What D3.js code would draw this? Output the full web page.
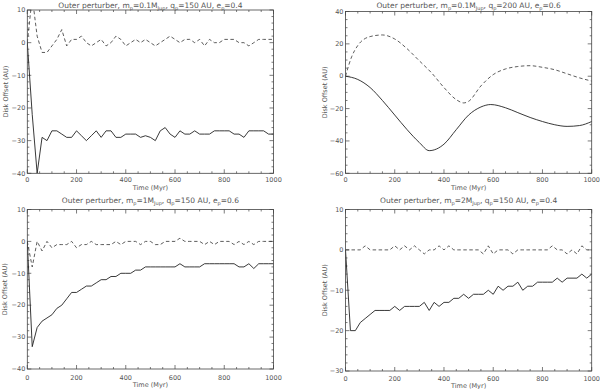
<!DOCTYPE html>
<html>
<head>
<meta charset="utf-8">
<script src="https://cdn.jsdelivr.net/npm/d3@7"></script>
<style>
  body { margin: 0; background: #fff; }
  svg { display: block; }
  text { font-family: "DejaVu Sans", sans-serif; fill: #555; }
</style>
</head>
<body>
<svg id="chart" width="600" height="389"></svg>
<script>
// time grid (Myr) for the sampled runs
const times = d3.range(0, 1001, 20)

// panel 1: m=0.1 MJup, q=150 AU, e=0.4
const solid1 = [0, -22, -40, -29, -30, -27, -27, -28, -29, -29, -27, -28.5, -30, -28.5, -27, -29, -27, -27, -29, -29,
  -28, -28, -28, -29, -28.5, -29, -30, -27, -26, -28, -29, -27, -28, -28, -27, -28, -28, -28, -27, -27,
  -27, -27, -28, -28, -29, -27, -27, -27, -27, -28, -28]
const dashed1 = [0, 14, 2, -3, -3, -1, 1, 4, -1, 1, 1, 2, 0, -1, 0, 1, -1, 0, 2, 1,
  -1, 0, 1, 0, 1, 0, -1, 0, 1, 2, 1, 0, 1, 1, 0, 1, -1, 1, 0, 0,
  1, 1, 1, 0, 0, -1, 0, 1, 1, 1, 1]

// panel 2: m=0.1 MJup, q=200 AU, e=0.6 (smooth curves)
const times2s = [0, 50, 100, 150, 200, 250, 300, 340, 400, 450, 500, 550, 590, 650, 700, 750, 800, 850, 900, 950, 1000]
const solid2 = [0, -2, -7, -15, -24, -33, -41, -46, -42, -33, -24, -19, -17.5, -19.5, -22.5, -25.5, -28, -30, -31, -30.5, -28]
const times2d = [0, 25, 50, 100, 150, 200, 250, 300, 350, 400, 450, 480, 500, 550, 600, 650, 700, 750, 800, 850, 900, 950, 1000]
const dashed2 = [0, 12, 19, 24.5, 25.5, 23, 17, 9.5, 2, -7, -14.5, -16.5, -15.5, -6, 1, 4.5, 6, 6.5, 5.5, 4, 1.5, -1, -3]

// panel 3: m=1 MJup, q=150 AU, e=0.6
const solid3 = [0, -33, -27, -25, -24, -23, -21, -20, -18, -16, -16, -15, -14, -14, -13, -12, -12, -11, -11, -10,
  -10, -10, -9, -9, -8, -8, -8, -8, -8, -8, -8, -7, -8, -8, -8, -8, -7, -7, -7, -7,
  -7, -7, -7, -8, -8, -7, -8.5, -7, -7, -7, -7]
const dashed3 = [0, -8, 0, -3, 0, -2, -1, -1, -1, 0, -2, -1, -1, 0, -1, -1, -1, -1, 0, -1,
  0, 0, 0, -1, 0, 0, -1, -1, 0, 0, 0, 1, 0, 0, 0, 0, -1, 0, -1, 0,
  0, 0, -1, 0, -1, 0, -1, 0, 0, 0, 0]

// panel 4: m=2 MJup, q=150 AU, e=0.4
const solid4 = [0, -20, -20, -18, -17, -16, -15, -15, -15, -15, -14, -15, -14, -14, -14, -14, -13, -15, -13, -14,
  -13, -13, -12, -12, -11, -12, -11, -11, -11, -10, -11, -9, -10, -9, -9, -8, -10, -9, -9, -8,
  -8, -8, -8, -7, -8, -7, -7, -7, -6, -7, -6]
const dashed4 = [0, 0, 0, 0, 1, 0, 0, 0, 0, 0, 1, 0, 1, 0, 1, 0, -1, 0, 0, 1,
  0, 1, 0, 0, 0, 0, 0, 0, -1, 1, -1, 0, 0, 0, -1, 0, 0, 0, 0, 0,
  0, 0, 1, 0, 0, -1, 0, -1, 1, 0, 0]

const xTicks = [0, 200, 400, 600, 800, 1000]

const panels = [
  { box: [27.3, 273.5, 10, 173.3], yDom: [-40, 10], yStep: 10, yMinor: 2, m: '0.1', q: '150', e: '0.4',
    ytx: 6, titleY: 5, xlabY: 180, timeY: 187.5,
    solid: { t: times, v: solid1 }, dashed: { t: times, v: dashed1 }, curve: d3.curveLinear },
  { box: [345.5, 591.7, 11.5, 173.3], yDom: [-60, 40], yStep: 20, yMinor: 5, m: '0.1', q: '200', e: '0.6',
    ytx: 325, titleY: 5, xlabY: 180, timeY: 187.5,
    solid: { t: times2s, v: solid2 }, dashed: { t: times2d, v: dashed2 }, curve: d3.curveMonotoneX },
  { box: [27.3, 273.5, 209.5, 369], yDom: [-40, 10], yStep: 10, yMinor: 2, m: '1', q: '150', e: '0.6',
    ytx: 5, titleY: 200, xlabY: 377.5, timeY: 384.5,
    solid: { t: times, v: solid3 }, dashed: { t: times, v: dashed3 }, curve: d3.curveLinear },
  { box: [345.5, 591.7, 209.5, 371], yDom: [-30, 10], yStep: 10, yMinor: 2, m: '2', q: '150', e: '0.4',
    ytx: 325, titleY: 200, xlabY: 378.5, timeY: 385.5,
    solid: { t: times, v: solid4 }, dashed: { t: times, v: dashed4 }, curve: d3.curveLinear }
]

const svg = d3.select('#chart')

panels.forEach((p, i) => {
  const [x0, x1, y0, y1] = p.box
  const x = d3.scaleLinear().domain([0, 1000]).range([x0, x1])
  const y = d3.scaleLinear().domain(p.yDom).range([y1, y0])
  const g = svg.append('g')

  const clipId = 'clip' + i
  g.append('clipPath').attr('id', clipId)
    .append('rect').attr('x', x0).attr('y', y0).attr('width', x1 - x0).attr('height', y1 - y0)

  // frame
  g.append('rect').attr('x', x0).attr('y', y0).attr('width', x1 - x0).attr('height', y1 - y0)
    .attr('fill', 'none').attr('stroke', '#444').attr('stroke-width', 0.8)

  // ticks on all four sides, pointing inward
  const xMinor = d3.range(0, 1001, 50)
  const yMinor = d3.range(p.yDom[0], p.yDom[1] + 0.001, p.yMinor)
  const yMajor = d3.range(p.yDom[0], p.yDom[1] + 0.001, p.yStep)
  const tk = g.append('g').attr('stroke', '#444').attr('stroke-width', 0.7)
  xMinor.forEach(v => {
    const len = v % 200 === 0 ? 4 : 2
    tk.append('line').attr('x1', x(v)).attr('x2', x(v)).attr('y1', y1).attr('y2', y1 - len)
    tk.append('line').attr('x1', x(v)).attr('x2', x(v)).attr('y1', y0).attr('y2', y0 + len)
  })
  yMinor.forEach(v => {
    const len = yMajor.some(m => Math.abs(m - v) < 1e-6) ? 4 : 2
    tk.append('line').attr('y1', y(v)).attr('y2', y(v)).attr('x1', x0).attr('x2', x0 + len)
    tk.append('line').attr('y1', y(v)).attr('y2', y(v)).attr('x1', x1).attr('x2', x1 - len)
  })

  // tick labels
  xTicks.forEach(v => {
    g.append('text').attr('x', x(v)).attr('y', p.xlabY).attr('dy', '0.35em')
      .attr('text-anchor', 'middle').attr('font-size', 6.5).text(v)
  })
  yMajor.forEach(v => {
    g.append('text').attr('x', x0 - 2).attr('y', y(v)).attr('dy', '0.35em')
      .attr('text-anchor', 'end').attr('font-size', 6.5).text(v < 0 ? '\u2212' + Math.abs(v) : v)
  })

  // axis titles
  g.append('text').attr('x', (x0 + x1) / 2).attr('y', p.timeY).attr('dy', '0.35em')
    .attr('text-anchor', 'middle').attr('font-size', 6.5).text('Time (Myr)')
  g.append('text').attr('transform', `translate(${p.ytx},${(y0 + y1) / 2}) rotate(-90)`)
    .attr('dy', '0.35em').attr('text-anchor', 'middle').attr('font-size', 6.5).text('Disk Offset (AU)')

  // title with subscripts: main text, then lowered subscript, back up again
  const t = g.append('text').attr('x', (x0 + x1) / 2).attr('y', p.titleY + 2.5)
    .attr('text-anchor', 'middle').attr('font-size', 7.5)
  const pieces = [
    ['Outer perturber, m', 'p'], ['=' + p.m + 'M', 'Jup'], [', q', 'p'], ['=' + p.q + ' AU, e', 'p'], ['=' + p.e, null]
  ]
  pieces.forEach(([s, sub], k) => {
    t.append('tspan').attr('dy', k === 0 ? 0 : -2).text(s)
    if (sub) t.append('tspan').attr('font-size', 5).attr('dy', 2).text(sub)
  })

  // data lines
  const line = d3.line().curve(p.curve).x(d => x(d[0])).y(d => y(d[1]))
  const plot = g.append('g').attr('clip-path', `url(#${clipId})`)
  plot.append('path').datum(d3.zip(p.solid.t, p.solid.v)).attr('d', line)
    .attr('fill', 'none').attr('stroke', '#222').attr('stroke-width', 0.9)
  plot.append('path').datum(d3.zip(p.dashed.t, p.dashed.v)).attr('d', line)
    .attr('fill', 'none').attr('stroke', '#333').attr('stroke-width', 0.8)
    .attr('stroke-dasharray', '3.5,2.5')
})
</script>
</body>
</html>
